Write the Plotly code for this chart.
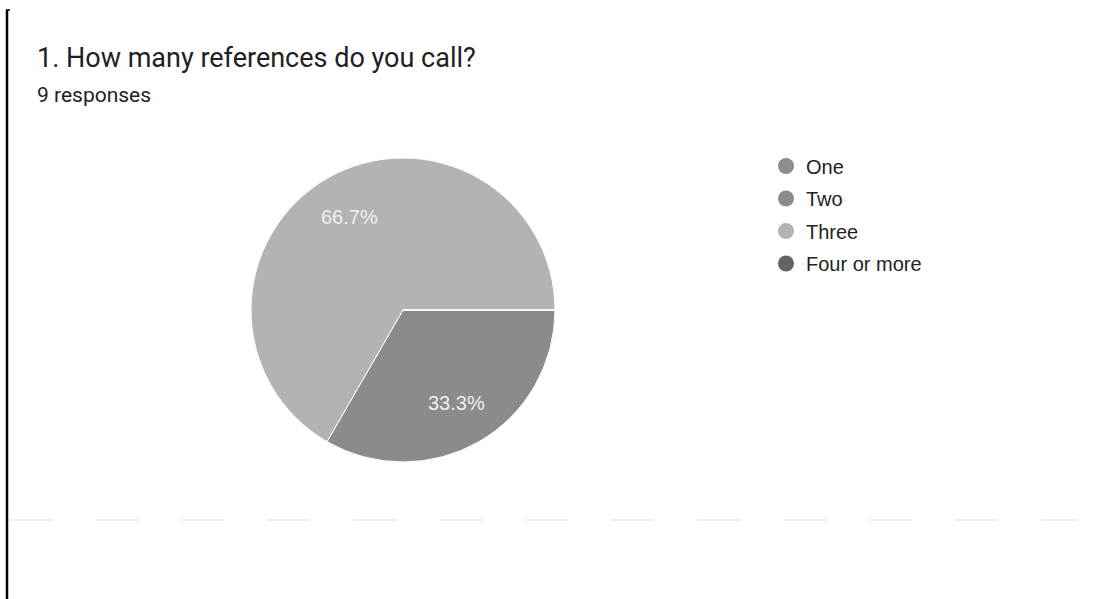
import math
import plotly.graph_objects as go

# Survey results: "1. How many references do you call?"
labels = ["One", "Two", "Three", "Four or more"]
counts = [0, 3, 6, 0]
colors = ["#8d8d8d", "#8b8b8b", "#b3b3b3", "#646464"]

title_text = "1. How many references do you call?"
subtitle_text = f"{sum(counts)} responses"

W, H = 1112, 599

def px_x(x):
    return x / W

def px_y(y):
    return 1 - y / H

# Pie geometry in pixels (centre and radius), start angle and label radius
cx, cy, r = 403, 310, 152
start_deg = 90          # first slice starts at 3 o'clock, going clockwise
label_frac = 0.71       # percentage labels sit at this fraction of the radius

fig = go.Figure()

fig.add_trace(go.Pie(
    labels=labels,
    values=counts,
    sort=False,
    direction="clockwise",
    rotation=start_deg,
    marker=dict(colors=colors, line=dict(color="white", width=1)),
    textinfo="none",
    domain=dict(x=[px_x(cx - r), px_x(cx + r)], y=[px_y(cy + r), px_y(cy - r)]),
    showlegend=False,
    hoverinfo="label+value+percent",
))

# Percentage labels placed at each slice's mid-angle
total = sum(counts)
pct_annotations = []
acc = 0
for c in counts:
    if c > 0:
        mid = start_deg + 360 * (acc + c / 2) / total   # degrees clockwise from 12 o'clock
        a = math.radians(mid)
        lx = cx + label_frac * r * math.sin(a)
        ly = cy - label_frac * r * math.cos(a)
        pct_annotations.append(dict(
            text=f"{100 * c / total:.1f}%", x=px_x(lx), y=px_y(ly),
            xref="paper", yref="paper", xanchor="center", yanchor="middle",
            showarrow=False,
            font=dict(family="Arial, Liberation Sans", size=20, color="#eeeeee"),
        ))
    acc += c

# Legend entries drawn as circular markers
for lab, col in zip(labels, colors):
    fig.add_trace(go.Scatter(
        x=[None], y=[None], mode="markers", name=lab,
        marker=dict(color=col, size=18, symbol="circle"),
        legendgroup=lab,
    ))

fig.update_layout(
    width=W, height=H,
    margin=dict(l=0, r=0, t=0, b=0),
    paper_bgcolor="white",
    plot_bgcolor="white",
    xaxis=dict(visible=False),
    yaxis=dict(visible=False),
    legend=dict(
        x=px_x(766), y=px_y(146.5), xanchor="left", yanchor="top",
        font=dict(family="Arial, Liberation Sans", size=20, color="#222222"),
        tracegroupgap=3.5,
        bgcolor="rgba(0,0,0,0)",
    ),
    annotations=[
        dict(text=title_text, x=px_x(35), y=px_y(58), xref="paper", yref="paper",
             xanchor="left", yanchor="middle", showarrow=False,
             font=dict(family="Roboto", size=27, color="#202124")),
        dict(text=subtitle_text, x=px_x(35), y=px_y(95), xref="paper", yref="paper",
             xanchor="left", yanchor="middle", showarrow=False,
             font=dict(family="Roboto", size=21, color="#202124")),
    ] + pct_annotations,
    shapes=[
        # left border bracket
        dict(type="line", xref="paper", yref="paper",
             x0=px_x(7), x1=px_x(7), y0=px_y(10), y1=0,
             line=dict(color="black", width=2.5)),
        dict(type="line", xref="paper", yref="paper",
             x0=px_x(6), x1=px_x(10), y0=px_y(10), y1=px_y(10),
             line=dict(color="black", width=1.5)),
        # faint dashed separator
        dict(type="line", xref="paper", yref="paper",
             x0=px_x(9), x1=px_x(1078), y0=px_y(520), y1=px_y(520),
             line=dict(color="#eeeeee", width=2, dash="43px,43px")),
    ],
)

fig.write_html("out.html")
